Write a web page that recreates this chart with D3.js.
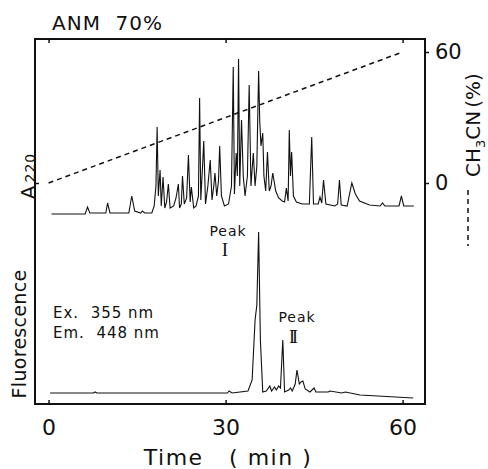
<!DOCTYPE html>
<html>
<head>
<meta charset="utf-8">
<script src="https://cdn.jsdelivr.net/npm/d3@7"></script>
<style>
  body { margin: 0; background: #fff; }
  svg text { font-family: "DejaVu Sans", sans-serif; fill: #111; }
  .tick line { stroke: #111; stroke-width: 1.5; }
  .domain { display: none; }
</style>
</head>
<body>
<svg id="chart" width="488" height="469"></svg>
<script>
// time axis (min)
const timeTicks = [0, 30, 60];
const gradientTicks = [0, 60];

// CH3CN gradient (%), [time, percent]
const gradient = [[0, 0], [60, 60]];

// A220 trace, [time, absorbance (arb.)]
const a220 = [
  [0.5, 2], [6.2, 2], [6.6, 9], [7.0, 3], [9.7, 3], [10.0, 13], [10.4, 3],
  [13.6, 3], [14.1, 20], [14.6, 5], [15.6, 3], [15.9, 5], [16.3, 3], [17.5, 3],
  [17.9, 10], [18.2, 30], [18.4, 89], [18.6, 20], [18.9, 46], [19.1, 10], [19.4, 39],
  [19.7, 8], [20.0, 14], [20.3, 32], [20.6, 8], [21.2, 10], [21.6, 18], [22.0, 32],
  [22.2, 8], [22.5, 12], [22.7, 40], [23.0, 12], [23.4, 18], [23.7, 61], [24.0, 14],
  [24.2, 29], [24.6, 8], [25.0, 10], [25.4, 20], [25.6, 118], [25.8, 16], [26.1, 50],
  [26.3, 75], [26.6, 12], [27.0, 30], [27.4, 56], [27.7, 16], [28.0, 30], [28.2, 43],
  [28.5, 20], [28.8, 35], [29.0, 70], [29.3, 20], [29.8, 10], [30.5, 12], [31.0, 30],
  [31.3, 149], [31.5, 22], [31.8, 63], [32.0, 40], [32.2, 157], [32.4, 30], [32.7, 96],
  [33.0, 40], [33.3, 20], [33.7, 40], [34.0, 131], [34.3, 30], [34.7, 63], [35.0, 30],
  [35.3, 50], [35.6, 145], [35.8, 93], [36.0, 70], [36.3, 83], [36.5, 40], [36.8, 25],
  [37.1, 64], [37.4, 25], [37.7, 30], [38.0, 43], [38.5, 25], [39.0, 18], [39.6, 15],
  [40.0, 14], [40.3, 28], [40.6, 15], [40.8, 86], [41.0, 40], [41.2, 64], [41.5, 20],
  [42.0, 14], [43.0, 12], [44.2, 12], [44.6, 79], [44.9, 12], [45.7, 12], [46.0, 19],
  [46.3, 13], [46.6, 36], [47.0, 12], [48.5, 10], [49.0, 12], [49.3, 36], [49.6, 11],
  [50.6, 10], [51.4, 33], [52.0, 22], [52.7, 15], [54.4, 11], [56.2, 10], [56.6, 13],
  [57.0, 10], [59.4, 10], [59.8, 20], [60.2, 10], [61.9, 10]
];

// fluorescence trace, [time, intensity (arb.)]
const fluor = [
  [0.25, 7], [7.6, 7], [7.9, 8], [8.2, 7], [30.3, 7], [30.6, 9], [31.1, 7], [33.8, 9],
  [34.5, 20], [35.0, 80], [35.3, 95], [35.6, 168], [35.9, 60], [36.3, 8], [36.9, 9],
  [37.5, 14], [37.8, 9], [38.3, 13], [38.6, 10], [39.0, 14], [39.3, 12], [39.7, 60],
  [40.0, 8], [40.7, 10], [41.0, 12], [41.3, 9], [41.8, 16], [42.1, 30], [42.5, 16],
  [42.8, 18], [43.1, 19], [43.5, 11], [44.3, 8], [45.0, 12], [45.3, 8], [47.4, 8],
  [47.7, 9], [49.7, 7], [50.3, 8], [52.8, 5], [61.8, 2]
];

const svg = d3.select('#chart');

const x = d3.scaleLinear().domain([-2.3, 63.8]).range([35, 425]);
const yA = d3.scaleLinear().domain([0, 170]).range([216, 46]);
const yF = d3.scaleLinear().domain([0, 175]).range([400, 225]);
const yG = d3.scaleLinear().domain([0, 60]).range([183, 52]);

// frame
svg.append('rect')
  .attr('x', 35).attr('y', 39).attr('width', 390).attr('height', 365)
  .attr('fill', 'none').attr('stroke', '#111').attr('stroke-width', 2);

// axes
svg.append('g')
  .attr('transform', 'translate(0,404)')
  .call(d3.axisBottom(x).tickValues(timeTicks).tickSize(-4).tickPadding(15))
  .call(g => g.selectAll('text').attr('font-size', 22).attr('fill', '#111'));

svg.append('g')
  .attr('transform', 'translate(0,39)')
  .call(d3.axisTop(x).tickValues(timeTicks).tickSize(-4).tickFormat(''));

svg.append('g')
  .attr('transform', 'translate(425,0)')
  .call(d3.axisRight(yG).tickValues(gradientTicks).tickSize(4).tickPadding(6))
  .call(g => g.selectAll('text').attr('font-size', 21).attr('fill', '#111'));

svg.append('g')
  .attr('transform', 'translate(35,0)')
  .call(d3.axisLeft(yG).tickValues([0]).tickSize(-4).tickFormat(''));

// traces
const lineA = d3.line().x(d => x(d[0])).y(d => yA(d[1]));
const lineF = d3.line().x(d => x(d[0])).y(d => yF(d[1]));
const lineG = d3.line().x(d => x(d[0])).y(d => yG(d[1]));

svg.append('path').datum(a220)
  .attr('d', lineA).attr('fill', 'none').attr('stroke', '#111').attr('stroke-width', 1.1);

svg.append('path').datum(fluor)
  .attr('d', lineF).attr('fill', 'none').attr('stroke', '#111').attr('stroke-width', 1.1);

svg.append('path').datum(gradient)
  .attr('d', lineG).attr('fill', 'none').attr('stroke', '#111')
  .attr('stroke-width', 1.5).attr('stroke-dasharray', '5,4');

// labels
svg.append('text').attr('x', 52).attr('y', 30)
  .attr('font-size', 20).attr('letter-spacing', 1)
  .attr('xml:space', 'preserve').text('ANM  70%');

svg.append('text').attr('x', 228).attr('y', 465)
  .attr('font-size', 22).attr('text-anchor', 'middle').attr('letter-spacing', 1.5)
  .attr('xml:space', 'preserve').text('Time   ( min )');

const aLab = svg.append('text')
  .attr('transform', 'translate(35,176) rotate(-90)')
  .attr('text-anchor', 'middle');
aLab.append('tspan').attr('font-size', 20).text('A');
aLab.append('tspan').attr('font-size', 14).attr('dx', 3).attr('letter-spacing', 1).text('220');

svg.append('text')
  .attr('transform', 'translate(26,334) rotate(-90)')
  .attr('text-anchor', 'middle').attr('font-size', 19).attr('letter-spacing', 0.3)
  .text('Fluorescence');

// CH3CN label with dashed legend
const gLab = svg.append('text')
  .attr('transform', 'translate(480,125) rotate(-90)')
  .attr('text-anchor', 'middle').attr('font-size', 20);
gLab.append('tspan').text('CH');
gLab.append('tspan').attr('font-size', 13).attr('dy', 5).text('3');
gLab.append('tspan').attr('dy', -5).text('CN');
gLab.append('tspan').attr('dx', 3).text('(%)');

svg.append('line')
  .attr('x1', 468).attr('x2', 468).attr('y1', 190).attr('y2', 246)
  .attr('stroke', '#111').attr('stroke-width', 1.5).attr('stroke-dasharray', '5,4');

// excitation / emission
svg.append('text').attr('x', 53).attr('y', 318)
  .attr('font-size', 15).attr('letter-spacing', 1)
  .attr('xml:space', 'preserve').text('Ex.  355 nm');
svg.append('text').attr('x', 53).attr('y', 338)
  .attr('font-size', 15).attr('letter-spacing', 1)
  .attr('xml:space', 'preserve').text('Em.  448 nm');

// peak annotations
svg.append('text').attr('x', 228).attr('y', 236)
  .attr('font-size', 14).attr('text-anchor', 'middle').attr('letter-spacing', 1).text('Peak');
svg.append('text').attr('x', 225).attr('y', 256)
  .attr('font-size', 19).attr('text-anchor', 'middle')
  .style('font-family', '"Liberation Serif", serif').text('I');
svg.append('text').attr('x', 297).attr('y', 322)
  .attr('font-size', 14).attr('text-anchor', 'middle').attr('letter-spacing', 1).text('Peak');
svg.append('text').attr('x', 292).attr('y', 343)
  .attr('font-size', 18).attr('text-anchor', 'middle').attr('letter-spacing', -3)
  .style('font-family', '"Liberation Serif", serif').text('II');
</script>
</body>
</html>
